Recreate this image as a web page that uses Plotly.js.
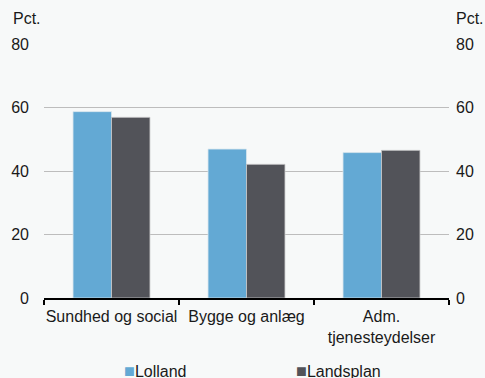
<!DOCTYPE html>
<html><head><meta charset="utf-8">
<script src="https://cdn.plot.ly/plotly-3.0.1.min.js"></script>
<style>html,body{margin:0;padding:0;background:#f7f9f9;}</style>
</head><body><div id="chart" style="width:485px;height:378px;"></div>
<script>
const categories = ["Sundhed og social", "Bygge og anlæg", "Adm.<br>tjenesteydelser"];
const seriesNames = ["Lolland", "Landsplan"];
const lolland = [58.7, 46.9, 45.8];
const landsplan = [56.9, 42.1, 46.5];
const yTicks = [0, 20, 40, 60, 80];
const colors = ["#63a9d4", "#525359"];

const font = {family: "Liberation Sans, Arial, sans-serif", size: 16, color: "#1a1a1a"};
const traces = [
  {type: "bar", name: seriesNames[0], x: categories, y: lolland,
   marker: {color: colors[0], line: {color: "#d8e6ee", width: 0.8}}},
  {type: "bar", name: seriesNames[1], x: categories, y: landsplan,
   marker: {color: colors[1], line: {color: "#c9cacc", width: 0.8}}},
  {type: "scatter", x: categories, y: landsplan, yaxis: "y2", mode: "none",
   showlegend: false, hoverinfo: "skip"}
];
const legendX = [0.192, 0.617];
const legendAnn = seriesNames.map((n, i) => ({
  text: '<span style="color:' + colors[i] + ';font-size:18px">■</span>' + n,
  xref: "paper", yref: "paper", x: legendX[i], y: 0, yshift: -73,
  xanchor: "left", yanchor: "middle", showarrow: false, font: font
}));
const layout = {
  width: 485, height: 378,
  paper_bgcolor: "#f7f9f9", plot_bgcolor: "#f7f9f9",
  font: font,
  margin: {l: 44, r: 36, t: 44, b: 80, autoexpand: false},
  barmode: "group", bargap: 0.43, bargroupgap: 0,
  showlegend: false,
  xaxis: {type: "category", showline: true, linecolor: "#000", linewidth: 1.5,
          ticks: "outside", tickson: "boundaries", ticklen: 5, tickcolor: "#000", tickwidth: 1.5,
          ticklabelstandoff: 3,
          tickangle: 0, showgrid: false, zeroline: false, tickfont: font, automargin: false},
  yaxis: {range: [0, 80], tickvals: yTicks, ticks: "", showgrid: true, gridcolor: "#bdbdbd",
          gridwidth: 1, zeroline: false, showline: false, ticklabelstandoff: 14, tickfont: font, automargin: false},
  yaxis2: {range: [0, 80], tickvals: yTicks, overlaying: "y", side: "right", ticks: "",
           showgrid: false, zeroline: false, showline: false, ticklabelstandoff: 6, tickfont: font, automargin: false},
  annotations: [
    {text: "Pct.", xref: "paper", yref: "paper", x: 0, y: 1.0, xshift: -33, yshift: 26, xanchor: "left",
     yanchor: "middle", showarrow: false, font: font},
    {text: "Pct.", xref: "paper", yref: "paper", x: 1.0, y: 1.0, yshift: 26, xshift: 5, xanchor: "left",
     yanchor: "middle", showarrow: false, font: font}
  ].concat(legendAnn)
};
Plotly.newPlot("chart", traces, layout, {displayModeBar: false, staticPlot: true});
</script></body></html>
